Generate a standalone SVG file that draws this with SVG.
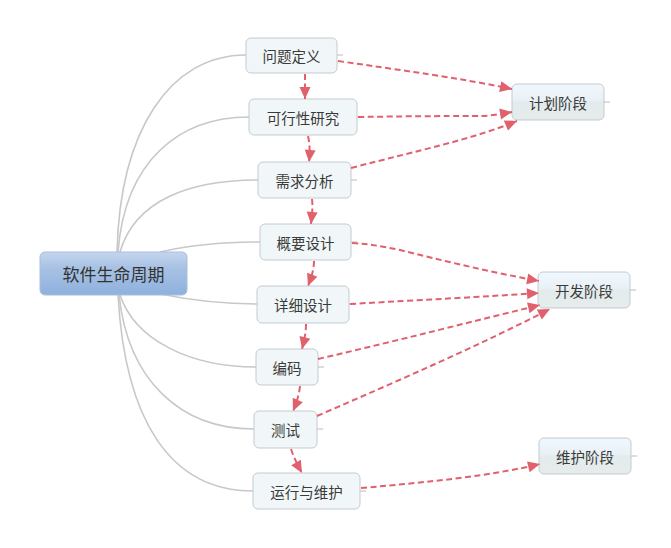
<svg xmlns="http://www.w3.org/2000/svg" width="671" height="548" viewBox="0 0 671 548">
<style>
.node rect{fill:#f1f7f8;stroke:#c3cbd2;stroke-width:1}
.phase rect{fill:url(#gp);stroke:#c3cbd2;stroke-width:1}
text{font-family:"Noto Sans CJK SC","Noto Sans CJK JP",sans-serif;font-size:14.5px;fill:#3a3a3a;text-anchor:middle;dominant-baseline:central}
.root text{font-size:17px;fill:#333}
.br{fill:none;stroke:#c8c8c8;stroke-width:1.6}
.tick{stroke:#bbb;stroke-width:1}
.rel{fill:none;stroke:#e0606c;stroke-width:2;stroke-dasharray:6 3.5}
</style>
<defs>
<linearGradient id="gr" x1="0" y1="0" x2="0" y2="1">
<stop offset="0" stop-color="#c4d6ee"/>
<stop offset="0.35" stop-color="#a9c2e4"/>
<stop offset="1" stop-color="#8eb1de"/>
</linearGradient>
<linearGradient id="gp" x1="0" y1="0" x2="0" y2="1">
<stop offset="0" stop-color="#f0f7fd"/>
<stop offset="0.45" stop-color="#eaf1f6"/>
<stop offset="0.5" stop-color="#e4ebec"/>
<stop offset="1" stop-color="#e6ecec"/>
</linearGradient>
<marker id="ah" viewBox="-12 -6 12 12" refX="0" refY="0" markerWidth="12" markerHeight="12" markerUnits="userSpaceOnUse" orient="auto" overflow="visible">
<path d="M-12,-5.5 L0,0 L-12,5.5 z" fill="#e0606c"/>
</marker>
</defs>
<rect width="671" height="548" fill="#fff"/>
<g id="branches">
<path class="br" d="M117,252 C120,130 170,55 246,55"/>
<path class="br" d="M118,252 C125,160 180,117 249,117"/>
<path class="br" d="M120,252 C135,200 190,180 258,180"/>
<path class="br" d="M160,252 C190,245 220,242 260,242"/>
<path class="br" d="M160,294 C190,300 220,304 257,304"/>
<path class="br" d="M120,295 C135,340 190,367 256,367"/>
<path class="br" d="M119,295 C128,380 180,429 254,429"/>
<path class="br" d="M118,295 C125,420 170,491 253,491"/>
</g>
<g id="ticks">
<line class="tick" x1="337" y1="55" x2="343" y2="55"/>
<line class="tick" x1="357" y1="117" x2="363" y2="117"/>
<line class="tick" x1="351" y1="180" x2="357" y2="180"/>
<line class="tick" x1="351" y1="242" x2="357" y2="242"/>
<line class="tick" x1="349" y1="304" x2="355" y2="304"/>
<line class="tick" x1="318" y1="367" x2="324" y2="367"/>
<line class="tick" x1="317" y1="429" x2="323" y2="429"/>
<line class="tick" x1="360" y1="491" x2="366" y2="491"/>
<line class="tick" x1="604" y1="102" x2="610" y2="102"/>
<line class="tick" x1="630" y1="290" x2="636" y2="290"/>
<line class="tick" x1="631" y1="456" x2="637" y2="456"/>
</g>
<g id="root" class="root">
<rect x="40" y="252" width="147" height="43" rx="5" fill="url(#gr)" stroke="#a9bfdc"/>
<text x="113.5" y="273.5">软件生命周期</text>
</g>
<g id="n1" class="node"><rect x="246" y="38" width="91" height="35" rx="5"/><text x="291.5" y="55.5">问题定义</text></g>
<g id="n2" class="node"><rect x="249" y="99" width="108" height="36" rx="5"/><text x="303" y="117">可行性研究</text></g>
<g id="n3" class="node"><rect x="258" y="162" width="93" height="36" rx="5"/><text x="304.5" y="180">需求分析</text></g>
<g id="n4" class="node"><rect x="260" y="224" width="91" height="36" rx="5"/><text x="305.5" y="242">概要设计</text></g>
<g id="n5" class="node"><rect x="257" y="286" width="92" height="37" rx="5"/><text x="303" y="304.5">详细设计</text></g>
<g id="n6" class="node"><rect x="256" y="349" width="62" height="36" rx="5"/><text x="287" y="367">编码</text></g>
<g id="n7" class="node"><rect x="254" y="411" width="63" height="37" rx="5"/><text x="285.5" y="429.5">测试</text></g>
<g id="n8" class="node"><rect x="253" y="473" width="107" height="36" rx="5"/><text x="306.5" y="491">运行与维护</text></g>
<g id="p1" class="phase"><rect x="512" y="84" width="92" height="36" rx="5"/><text x="558" y="102">计划阶段</text></g>
<g id="p2" class="phase"><rect x="538" y="272" width="92" height="36" rx="5"/><text x="584" y="290">开发阶段</text></g>
<g id="p3" class="phase"><rect x="539" y="438" width="92" height="36" rx="5"/><text x="585" y="456">维护阶段</text></g>
<g id="connectors">
<path class="rel" marker-end="url(#ah)" d="M305,74 L305,99"/>
<path class="rel" marker-end="url(#ah)" d="M308,136 C310,145 310,152 309,162"/>
<path class="rel" marker-end="url(#ah)" d="M312,199 C313,207 312,214 311,224"/>
<path class="rel" marker-end="url(#ah)" d="M314,261 C314,270 311,278 308,286"/>
<path class="rel" marker-end="url(#ah)" d="M306,324 C306,333 304,341 302,349"/>
<path class="rel" marker-end="url(#ah)" d="M300,386 C299,396 296,404 293,411"/>
<path class="rel" marker-end="url(#ah)" d="M291,449 C294,458 298,466 302,473"/>
<path class="rel" marker-end="url(#ah)" d="M338,61 C400,70 460,78 512,89"/>
<path class="rel" marker-end="url(#ah)" d="M358,117 C420,116 460,116 480,116 C490,116 500,114 512,112"/>
<path class="rel" marker-end="url(#ah)" d="M351,168 C420,150 470,140 517,121"/>
<path class="rel" marker-end="url(#ah)" d="M352,243 C370,244 380,246 400,250 C440,260 490,272 539,281"/>
<path class="rel" marker-end="url(#ah)" d="M350,304 C420,300 480,297 539,293"/>
<path class="rel" marker-end="url(#ah)" d="M318,359 C400,340 470,322 540,305"/>
<path class="rel" marker-end="url(#ah)" d="M317,416 C400,380 480,345 550,309"/>
<path class="rel" marker-end="url(#ah)" d="M361,488 C430,482 490,476 540,464"/>
</g>
</svg>
